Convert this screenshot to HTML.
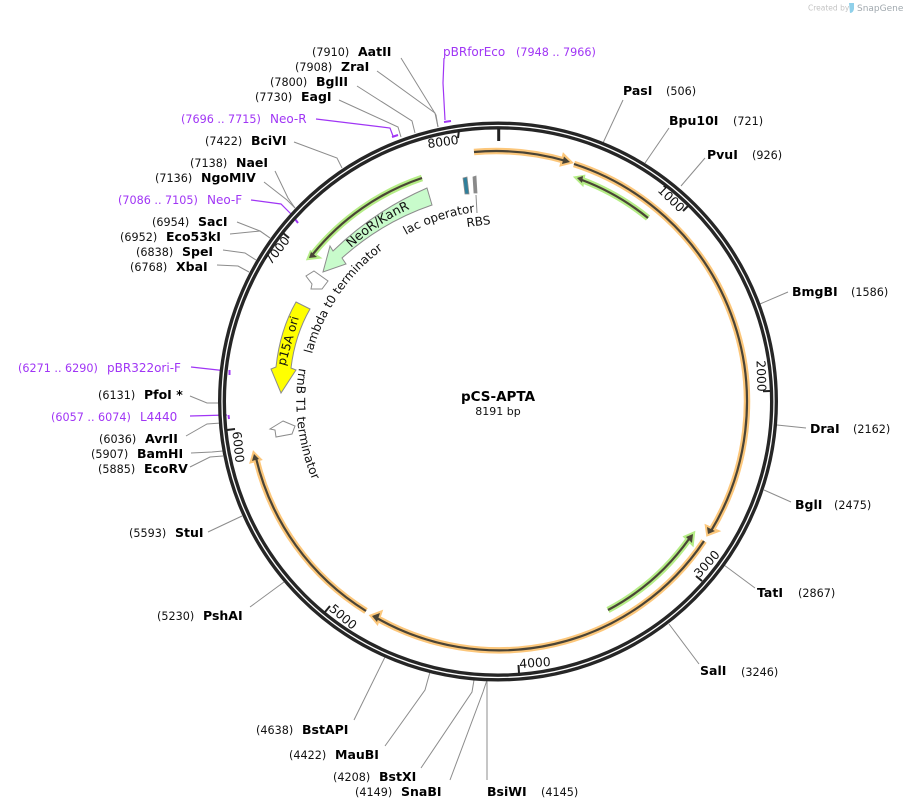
<!DOCTYPE html>
<html><head><meta charset="utf-8"><style>
html,body{margin:0;padding:0;background:#fff;width:906px;height:810px;overflow:hidden}
svg{display:block;font-family:"DejaVu Sans","Liberation Sans",sans-serif}
.n{font-size:11.2px;fill:#111}
.b{font-size:12.5px;font-weight:bold;fill:#000}
.p{font-size:12px;fill:#a035f5}
.pn{font-size:11.2px;fill:#a035f5}
.t{font-size:12.300px;fill:#111;text-anchor:middle}
.l{fill:none;stroke:#8c8c8c;stroke-width:1}
.v{fill:none;stroke:#a035f5;stroke-width:1.2}
.vt{fill:none;stroke:#a035f5;stroke-width:2}
.oh{fill:none;stroke:#fcc77b;stroke-width:6.5}
.gh{fill:none;stroke:#b5ed86;stroke-width:6.5}
.d{fill:none;stroke:#4a4436;stroke-width:2.2}
.tk{stroke:#222;stroke-width:2}
.f{font-size:12px;fill:#111}
</style></head><body>
<svg width="906" height="810" viewBox="0 0 906 810" xmlns="http://www.w3.org/2000/svg">
<defs>
<path id="lac" d="M406 235 A192 192 0 0 1 486 211"/>
<path id="lam" d="M312 354 A192 192 0 0 1 392 243"/>
<path id="rrn" d="M299 368 A203 203 0 0 0 325 505"/>
<path id="neo" d="M351 248 A214 214 0 0 1 430 201"/>
</defs>

<text x="808" y="10.5" font-size="7.5" fill="#c4c4c4">Created by</text>
<path d="M849 3 L854 3 L854 9 Q853 13 850 13 Z" fill="#8fd0ea"/>
<text x="857" y="11" font-size="9" fill="#a0a8ae">SnapGene</text>

<!-- connector lines -->
<g class="l">
<path d="M401 58 L436 115 L438 127" class="l"/>
<path d="M377 71 L435 113 L438 127" class="l"/>
<path d="M357 86 L412 121 L415 133" class="l"/>
<path d="M339 100 L398 127 L401 137" class="l"/>
<path d="M294 142 L337 158 L342 168" class="l"/>
<path d="M275 171 L288 198 L295 208" class="l"/>
<path d="M264 182 L287 200 L295 208" class="l"/>
<path d="M237 222 L260 231 L270 238" class="l"/>
<path d="M230 234 L260 231 L270 238" class="l"/>
<path d="M223 250 L245 253 L256 260" class="l"/>
<path d="M217 265 L238 266 L249 272" class="l"/>
<path d="M190 396 L207 403 L222 403" class="l"/>
<path d="M186 436 L207 424 L221 423" class="l"/>
<path d="M191 453 L212 452 L223 451" class="l"/>
<path d="M190 467 L210 457 L223 456" class="l"/>
<path d="M208 532 L242 516" class="l"/>
<path d="M250 607 L284 582" class="l"/>
<path d="M354 720 L385 657" class="l"/>
<path d="M385 746 L425 690 L430 672" class="l"/>
<path d="M421 768 L472 692 L474 680" class="l"/>
<path d="M450 780 L483 692 L487 680" class="l"/>
<path d="M487 680 L487 780" class="l"/>
<path d="M603 143 L623 100" class="l"/>
<path d="M645 163 L669 128" class="l"/>
<path d="M681 186 L705 158" class="l"/>
<path d="M760 304 L788 292" class="l"/>
<path d="M777 425 L806 428" class="l"/>
<path d="M764 490 L791 502" class="l"/>
<path d="M724 565 L755 588" class="l"/>
<path d="M669 624 L699 664" class="l"/>
<path d="M476 195 L477 213" class="l"/>
</g>

<!-- purple primers -->
<path class="v" d="M444 58 L443 83 L445 120"/>
<path class="vt" d="M444 122 L451 121"/>
<path class="v" d="M316 119 L390 128 L393 136"/>
<path class="vt" d="M392 137 L398 135"/>
<path class="v" d="M251 200 L281 204 L291 214"/>
<path class="vt" d="M295 219 L298 223"/>
<path class="v" d="M191 367 L227 371"/>
<path class="vt" d="M229.500 370 L229.500 375"/>
<path class="v" d="M190 416 L227 415"/>
<path class="vt" d="M228.500 415 L229 419"/>

<!-- backbone -->
<circle cx="498" cy="401.500" r="276" fill="none" stroke="#262626" stroke-width="8"/>
<circle cx="498" cy="401.500" r="276" fill="none" stroke="#fff" stroke-width="1.300"/>

<!-- ticks -->
<path class="tk" style="stroke-width:3" d="M498.700 128 L498.700 141"/>
<path class="tk" d="M688.500 205.500 L683 211 M770 391 L763 391.300 M702 581 L696 576 M519 673 L518.500 665 M325 612 L330 606 M227 430 L235 429 M283 233 L289 238 M459 130 L458 138"/>
<text class="t" transform="translate(671,199) rotate(44)" y="4">1000</text>
<text class="t" transform="translate(761,376) rotate(88)" y="4">2000</text>
<text class="t" transform="translate(707,564) rotate(-48)" y="4">3000</text>
<text class="t" transform="translate(535,663) rotate(-4)" y="4">4000</text>
<text class="t" transform="translate(343,617) rotate(40)" y="4">5000</text>
<text class="t" transform="translate(238,447) rotate(84)" y="4">6000</text>
<text class="t" transform="translate(277.500,250.500) rotate(-52)" y="4">7000</text>
<text class="t" transform="translate(443,142) rotate(-8)" y="4">8000</text>

<!-- orange arcs -->
<path class="oh" d="M474 152 A251 251 0 0 1 566 161"/>
<path class="oh" d="M574 164 A250 250 0 0 1 711 531"/>
<path class="oh" d="M704 541 A247 247 0 0 1 375 617"/>
<path class="oh" d="M366 611 A247 247 0 0 1 256 458"/>
<polygon points="570,162 564,156 562,164" fill="#fcc77b" stroke="#fcc77b" stroke-width="4"/>
<polygon points="708,534 707,527 716,531" fill="#fcc77b" stroke="#fcc77b" stroke-width="4"/>
<polygon points="372,616 380,613 377,622" fill="#fcc77b" stroke="#fcc77b" stroke-width="4"/>
<polygon points="254,454 252,461 259,459" fill="#fcc77b" stroke="#fcc77b" stroke-width="4"/>
<!-- green arcs -->
<path class="gh" d="M422 178 A238 238 0 0 0 313 254"/>
<path class="gh" d="M648 218 A238 238 0 0 0 582 180"/>
<path class="gh" d="M608 610 A234 234 0 0 0 689 539"/>
<polygon points="309,258 311,253 317,257" fill="#b5ed86" stroke="#b5ed86" stroke-width="4"/>
<polygon points="577,178 583,177 582,183" fill="#b5ed86" stroke="#b5ed86" stroke-width="4"/>
<polygon points="693,534 686,537 692,543" fill="#b5ed86" stroke="#b5ed86" stroke-width="4"/>
<!-- inner dark lines -->
<path class="d" d="M474 152 A251 251 0 0 1 566 161"/>
<path class="d" d="M574 164 A250 250 0 0 1 711 531"/>
<path class="d" d="M704 541 A247 247 0 0 1 375 617"/>
<path class="d" d="M366 611 A247 247 0 0 1 256 458"/>
<path class="d" d="M422 178 A238 238 0 0 0 313 254"/>
<path class="d" d="M648 218 A238 238 0 0 0 582 180"/>
<path class="d" d="M608 610 A234 234 0 0 0 689 539"/>
<g fill="#4a4436">
<polygon points="570,162 564,156.500 562,164"/>
<polygon points="708,534 707,527 715,531"/>
<polygon points="372,616 380,613 377,622"/>
<polygon points="254,454 252,461 259,459"/>
<polygon points="309,258 311,252 317,257"/>
<polygon points="577,178 583,176 582,183"/>
<polygon points="693,534 686,537 692,543"/>
</g>

<!-- features -->
<path d="M427 188 L432 205 Q382 222 342 258 L346 264 L323 272 L330 246 L333 251 Q374 211 427 188 Z" fill="#c8fbcb" stroke="#8c8c8c" stroke-width="1"/>
<text class="f" style="font-size:12.700px"><textPath href="#neo">NeoR/KanR</textPath></text>
<path d="M296 302 L310 309 Q295 335 291 368 L296 370 L281 393 L271 369 L276 367 Q280 330 296 302 Z" fill="#ffff00" stroke="#8c8c8c" stroke-width="1"/>
<text class="f" text-anchor="middle" transform="translate(292,342) rotate(-74)">p15A ori</text>
<polygon points="314,271 328,281 322,289 311,289 312,284 306,276" fill="#fff" stroke="#8c8c8c" stroke-width="1"/>
<polygon points="283,421 295,426 292,434 276,437 275,430 270,429" fill="#fff" stroke="#8c8c8c" stroke-width="1"/>
<polygon points="463,178 467,177 469,194 465,194" fill="#2f7f9b" stroke="#8c8c8c" stroke-width="0.800"/>
<polygon points="473,177 476,176 477,193 474,193" fill="#8a8a8a" stroke="#8c8c8c" stroke-width="0.800"/>
<text class="f"><textPath href="#lac">lac operator</textPath></text>
<text class="f"><textPath href="#lam">lambda t0 terminator</textPath></text>
<text class="f" style="font-size:12.300px"><textPath href="#rrn">rrnB T1 terminator</textPath></text>
<text class="f" transform="translate(467,227) rotate(-7)">RBS</text>

<!-- center -->
<text x="498" y="401" font-size="13.500" font-weight="bold" text-anchor="middle" fill="#000">pCS-APTA</text>
<text x="498" y="415" font-size="11" text-anchor="middle" fill="#111">8191 bp</text>

<!-- labels left top -->
<text class="n" x="312" y="56">(7910)</text><text class="b" x="358" y="56">AatII</text>
<text class="n" x="295" y="71">(7908)</text><text class="b" x="341" y="71">ZraI</text>
<text class="n" x="270" y="86">(7800)</text><text class="b" x="316" y="86">BglII</text>
<text class="n" x="255" y="101">(7730)</text><text class="b" x="301" y="101">EagI</text>
<text class="n" x="205" y="145">(7422)</text><text class="b" x="251" y="145">BciVI</text>
<text class="n" x="190" y="167">(7138)</text><text class="b" x="236" y="167">NaeI</text>
<text class="n" x="155" y="182">(7136)</text><text class="b" x="201" y="182">NgoMIV</text>
<text class="n" x="152" y="226">(6954)</text><text class="b" x="198" y="226">SacI</text>
<text class="n" x="120" y="241">(6952)</text><text class="b" x="166" y="241">Eco53kI</text>
<text class="n" x="136" y="256">(6838)</text><text class="b" x="182" y="256">SpeI</text>
<text class="n" x="130" y="271">(6768)</text><text class="b" x="176" y="271">XbaI</text>
<text class="n" x="98" y="399">(6131)</text><text class="b" x="144" y="399">PfoI *</text>
<text class="n" x="99" y="443">(6036)</text><text class="b" x="145" y="443">AvrII</text>
<text class="n" x="91" y="458">(5907)</text><text class="b" x="137" y="458">BamHI</text>
<text class="n" x="98" y="473">(5885)</text><text class="b" x="144" y="473">EcoRV</text>
<text class="n" x="129" y="537">(5593)</text><text class="b" x="175" y="537">StuI</text>
<text class="n" x="157" y="620">(5230)</text><text class="b" x="203" y="620">PshAI</text>
<text class="n" x="256" y="734">(4638)</text><text class="b" x="302" y="734">BstAPI</text>
<text class="n" x="289" y="759">(4422)</text><text class="b" x="335" y="759">MauBI</text>
<text class="n" x="333" y="781">(4208)</text><text class="b" x="379" y="781">BstXI</text>
<text class="n" x="355" y="796">(4149)</text><text class="b" x="401" y="796">SnaBI</text>
<text class="b" x="487" y="796">BsiWI</text><text class="n" x="541" y="796">(4145)</text>
<!-- right -->
<text class="b" x="623" y="95">PasI</text><text class="n" x="666" y="95">(506)</text>
<text class="b" x="669" y="125">Bpu10I</text><text class="n" x="733" y="125">(721)</text>
<text class="b" x="707" y="159">PvuI</text><text class="n" x="752" y="159">(926)</text>
<text class="b" x="792" y="296">BmgBI</text><text class="n" x="851" y="296">(1586)</text>
<text class="b" x="810" y="433">DraI</text><text class="n" x="853" y="433">(2162)</text>
<text class="b" x="795" y="509">BglI</text><text class="n" x="834" y="509">(2475)</text>
<text class="b" x="757" y="597">TatI</text><text class="n" x="798" y="597">(2867)</text>
<text class="b" x="700" y="675">SalI</text><text class="n" x="741" y="676">(3246)</text>

<!-- purple labels -->
<text class="p" x="443" y="56">pBRforEco</text><text class="pn" x="516" y="56">(7948 .. 7966)</text>
<text class="pn" x="181" y="123">(7696 .. 7715)</text><text class="p" x="270" y="123">Neo-R</text>
<text class="pn" x="118" y="204">(7086 .. 7105)</text><text class="p" x="207" y="204">Neo-F</text>
<text class="pn" x="18" y="372">(6271 .. 6290)</text><text class="p" x="107" y="372">pBR322ori-F</text>
<text class="pn" x="51" y="421">(6057 .. 6074)</text><text class="p" x="140" y="421">L4440</text>
</svg>
</body></html>
